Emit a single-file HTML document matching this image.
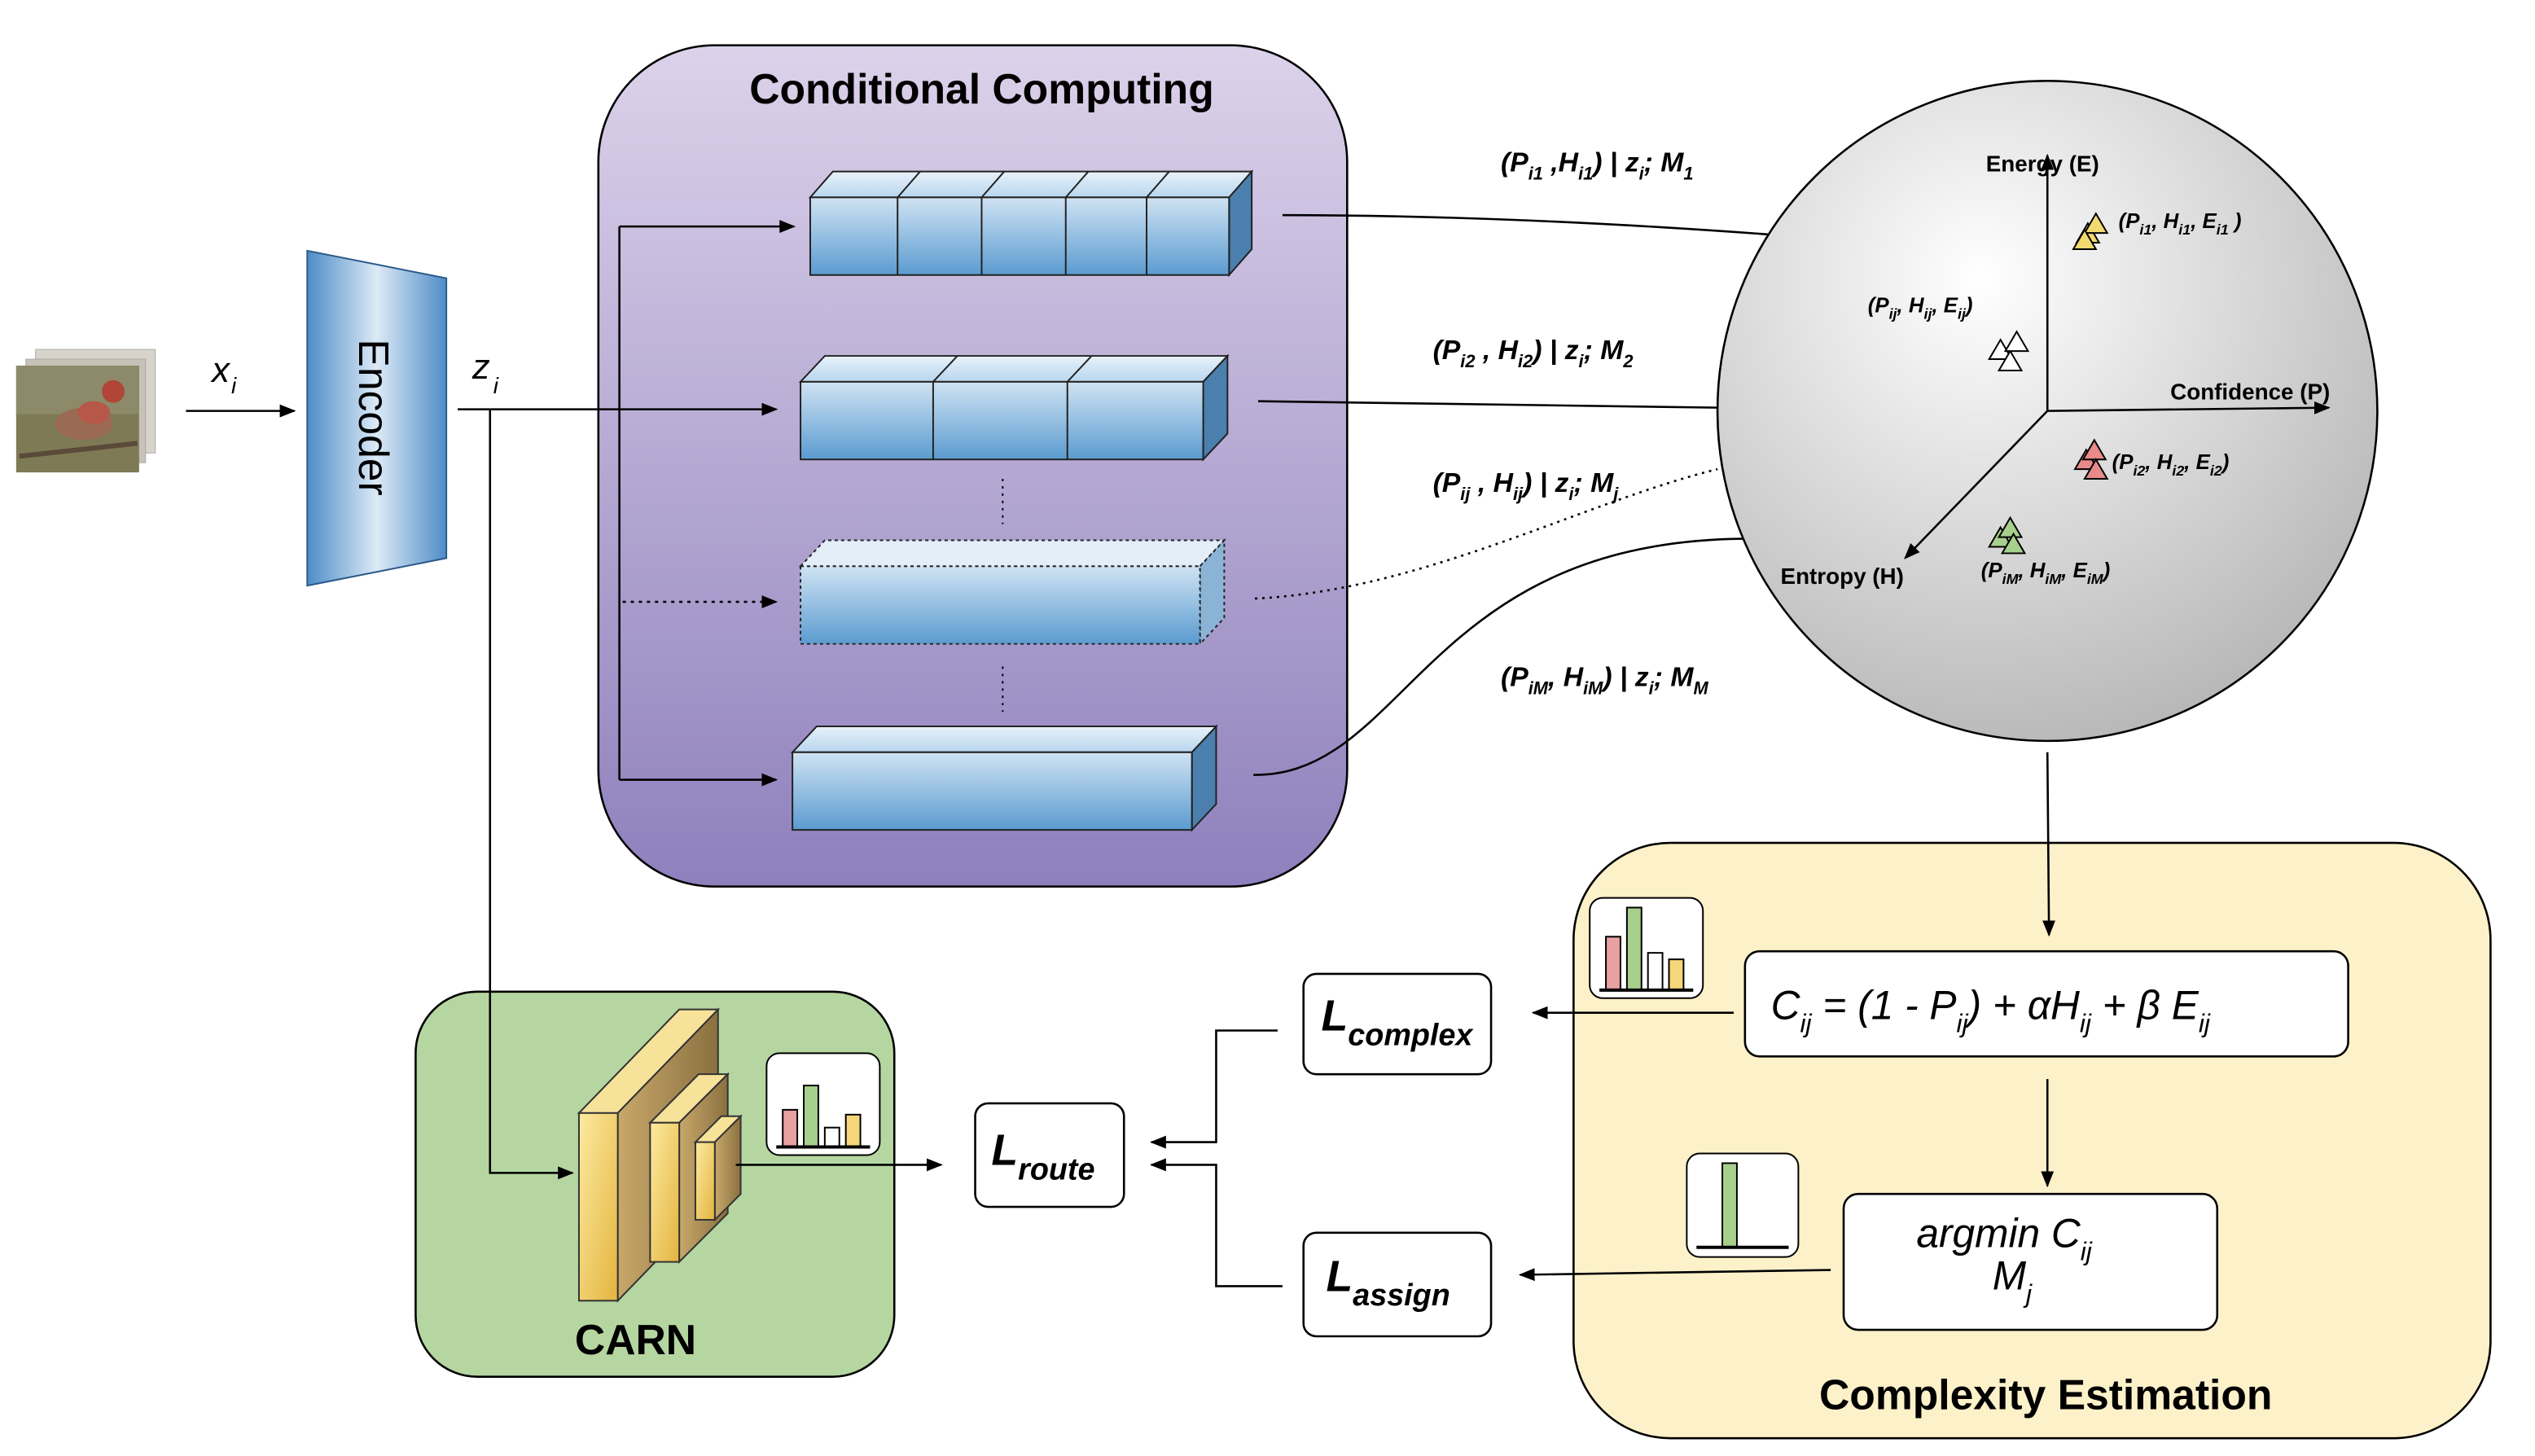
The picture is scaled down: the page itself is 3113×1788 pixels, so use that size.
<!DOCTYPE html>
<html><head><meta charset="utf-8"><style>
html,body{margin:0;padding:0;background:#fff}
svg{display:block}
text{font-family:"Liberation Sans",Arial,sans-serif}
</style></head><body>
<svg width="3113" height="1788" viewBox="0 0 1567.5 900" preserveAspectRatio="none" xmlns="http://www.w3.org/2000/svg">
<defs>
<linearGradient id="pur" x1="0" y1="0" x2="0" y2="1"><stop offset="0" stop-color="#dcd2ea"/><stop offset="1" stop-color="#8e80bc"/></linearGradient>
<linearGradient id="enc" x1="0" y1="0" x2="1" y2="0"><stop offset="0" stop-color="#4f8cc8"/><stop offset="0.5" stop-color="#dceaf6"/><stop offset="1" stop-color="#4f8cc8"/></linearGradient>
<linearGradient id="blk" x1="0" y1="0" x2="0" y2="1"><stop offset="0" stop-color="#cfe3f3"/><stop offset="1" stop-color="#5b9bd0"/></linearGradient>
<linearGradient id="blkt" x1="0" y1="0" x2="0" y2="1"><stop offset="0" stop-color="#e8f2fa"/><stop offset="1" stop-color="#b8d6ee"/></linearGradient>
<radialGradient id="sph" cx="0.4" cy="0.3" r="0.8"><stop offset="0" stop-color="#ffffff"/><stop offset="1" stop-color="#b0b0b0"/></radialGradient>
<linearGradient id="yel" x1="0" y1="0" x2="1" y2="1"><stop offset="0" stop-color="#fdeaa0"/><stop offset="1" stop-color="#e3b43e"/></linearGradient>
<linearGradient id="yel2" x1="0" y1="0" x2="1" y2="0"><stop offset="0" stop-color="#c8a86a"/><stop offset="1" stop-color="#8a7040"/></linearGradient>
<marker id="ar" markerWidth="10" markerHeight="8" refX="9" refY="4" orient="auto" markerUnits="userSpaceOnUse"><path d="M0,0 L10,4 L0,8 z" fill="#000"/></marker>
</defs>

<!-- bird photos -->
<rect x="22" y="216" width="74" height="64" fill="#d8d4cc" stroke="#aaa" stroke-width="0.5"/>
<rect x="16" y="222" width="74" height="64" fill="#c7c2b8" stroke="#aaa" stroke-width="0.5"/>
<rect x="10" y="226" width="76" height="66" fill="#7d7a55"/>
<rect x="10" y="226" width="76" height="30" fill="#8c8a68"/>
<ellipse cx="52" cy="262" rx="18" ry="10" fill="#9b6a52"/>
<circle cx="70" cy="242" r="7" fill="#b04538"/>
<ellipse cx="58" cy="255" rx="10" ry="7" fill="#b7574a"/>
<line x1="12" y1="282" x2="85" y2="274" stroke="#5a4a3a" stroke-width="3"/>

<text x="131" y="236" font-size="22" font-style="italic">x</text><text x="143" y="243" font-size="14" font-style="italic">i</text>
<line x1="115" y1="254" x2="182" y2="254" stroke="#000" stroke-width="1.3" marker-end="url(#ar)"/>

<!-- encoder -->
<polygon points="190,155 276,172 276,345 190,362" fill="url(#enc)" stroke="#2a5a8a" stroke-width="1"/>
<text transform="translate(222,258) rotate(90)" font-size="26" text-anchor="middle">Encoder</text>

<text x="292" y="234" font-size="22" font-style="italic">z</text><text x="305" y="243" font-size="14" font-style="italic">i</text>

<!-- conditional computing -->
<rect x="370" y="28" width="463" height="520" rx="72" fill="url(#pur)" stroke="#000" stroke-width="1.3"/>
<text x="607" y="64" font-size="26" font-weight="bold" text-anchor="middle">Conditional Computing</text>
<line x1="383" y1="140" x2="383" y2="482" stroke="#000" stroke-width="1.3"/>
<line x1="383" y1="140" x2="491" y2="140" stroke="#000" stroke-width="1.3" marker-end="url(#ar)"/>
<line x1="383" y1="482" x2="480" y2="482" stroke="#000" stroke-width="1.3" marker-end="url(#ar)"/>
<line x1="385" y1="372" x2="480" y2="372" stroke="#000" stroke-width="1.3" stroke-dasharray="2,3" marker-end="url(#ar)"/>

<!-- block1 -->
<g stroke="#222" stroke-width="1">
<polygon points="501,122 515,106 774,106 760,122" fill="url(#blkt)"/>
<polygon points="760,122 774,106 774,154 760,170" fill="#4a7fae"/>
<rect x="501" y="122" width="259" height="48" fill="url(#blk)"/>
<line x1="555" y1="122" x2="555" y2="170"/><line x1="607" y1="122" x2="607" y2="170"/><line x1="659" y1="122" x2="659" y2="170"/><line x1="709" y1="122" x2="709" y2="170"/>
<line x1="555" y1="122" x2="569" y2="106"/><line x1="607" y1="122" x2="621" y2="106"/><line x1="659" y1="122" x2="673" y2="106"/><line x1="709" y1="122" x2="723" y2="106"/>
</g>
<!-- block2 -->
<g stroke="#222" stroke-width="1">
<polygon points="495,236 510,220 759,220 744,236" fill="url(#blkt)"/>
<polygon points="744,236 759,220 759,268 744,284" fill="#4a7fae"/>
<rect x="495" y="236" width="249" height="48" fill="url(#blk)"/>
<line x1="577" y1="236" x2="577" y2="284"/><line x1="660" y1="236" x2="660" y2="284"/>
<line x1="577" y1="236" x2="592" y2="220"/><line x1="660" y1="236" x2="675" y2="220"/>
</g>
<!-- dotted block -->
<g stroke="#222" stroke-width="1" stroke-dasharray="2,2">
<polygon points="495,350 510,334 757,334 742,350" fill="#e3eef8"/>
<polygon points="742,350 757,334 757,382 742,398" fill="#8ab3d6"/>
<rect x="495" y="350" width="247" height="48" fill="url(#blk)"/>
</g>
<!-- block4 -->
<g stroke="#222" stroke-width="1">
<polygon points="490,465 505,449 752,449 737,465" fill="url(#blkt)"/>
<polygon points="737,465 752,449 752,497 737,513" fill="#4a7fae"/>
<rect x="490" y="465" width="247" height="48" fill="url(#blk)"/>
</g>
<line x1="620" y1="296" x2="620" y2="324" stroke="#000" stroke-dasharray="1.5,3"/>
<line x1="620" y1="412" x2="620" y2="440" stroke="#000" stroke-dasharray="1.5,3"/>

<!-- connectors to sphere -->
<path d="M793,133 C900,133 1000,138 1095,145" fill="none" stroke="#000" stroke-width="1.3"/>
<path d="M778,248 C880,250 980,251 1063,252" fill="none" stroke="#000" stroke-width="1.3"/>
<path d="M776,370 C880,365 980,310 1062,290" fill="none" stroke="#000" stroke-width="1.3" stroke-dasharray="1.5,3"/>
<path d="M775,479 C870,480 880,335 1078,333" fill="none" stroke="#000" stroke-width="1.3"/>

<g font-size="17" font-weight="bold" font-style="italic">
<text x="928" y="106">(P<tspan font-size="11" dy="5">i1</tspan><tspan dy="-5"> ,H</tspan><tspan font-size="11" dy="5">i1</tspan><tspan dy="-5">) | z</tspan><tspan font-size="11" dy="5">i</tspan><tspan dy="-5">; M</tspan><tspan font-size="11" dy="5">1</tspan></text>
<text x="886" y="222">(P<tspan font-size="11" dy="5">i2</tspan><tspan dy="-5"> , H</tspan><tspan font-size="11" dy="5">i2</tspan><tspan dy="-5">) | z</tspan><tspan font-size="11" dy="5">i</tspan><tspan dy="-5">; M</tspan><tspan font-size="11" dy="5">2</tspan></text>
<text x="886" y="304">(P<tspan font-size="11" dy="5">ij</tspan><tspan dy="-5"> , H</tspan><tspan font-size="11" dy="5">ij</tspan><tspan dy="-5">) | z</tspan><tspan font-size="11" dy="5">i</tspan><tspan dy="-5">; M</tspan><tspan font-size="11" dy="5">j</tspan></text>
<text x="928" y="424">(P<tspan font-size="11" dy="5">iM</tspan><tspan dy="-5">, H</tspan><tspan font-size="11" dy="5">iM</tspan><tspan dy="-5">) | z</tspan><tspan font-size="11" dy="5">i</tspan><tspan dy="-5">; M</tspan><tspan font-size="11" dy="5">M</tspan></text>
</g>

<!-- sphere -->
<circle cx="1266" cy="254" r="204" fill="url(#sph)" stroke="#000" stroke-width="1.3"/>
<line x1="1266" y1="254" x2="1266" y2="96" stroke="#000" stroke-width="1.3" marker-end="url(#ar)"/>
<line x1="1266" y1="254" x2="1440" y2="252" stroke="#000" stroke-width="1.3" marker-end="url(#ar)"/>
<line x1="1266" y1="254" x2="1178" y2="345" stroke="#000" stroke-width="1.3" marker-end="url(#ar)"/>
<g font-size="14" font-weight="bold">
<text x="1263" y="106" text-anchor="middle">Energy (E)</text>
<text x="1342" y="247">Confidence (P)</text>
<text x="1101" y="361">Entropy (H)</text>
</g>
<g font-size="13" font-weight="bold" font-style="italic">
<text x="1310" y="141">(P<tspan font-size="9" dy="4">i1</tspan><tspan dy="-4">, H</tspan><tspan font-size="9" dy="4">i1</tspan><tspan dy="-4">, E</tspan><tspan font-size="9" dy="4">i1</tspan><tspan dy="-4"> )</tspan></text>
<text x="1155" y="193">(P<tspan font-size="9" dy="4">ij</tspan><tspan dy="-4">, H</tspan><tspan font-size="9" dy="4">ij</tspan><tspan dy="-4">, E</tspan><tspan font-size="9" dy="4">ij</tspan><tspan dy="-4">)</tspan></text>
<text x="1306" y="290">(P<tspan font-size="9" dy="4">i2</tspan><tspan dy="-4">, H</tspan><tspan font-size="9" dy="4">i2</tspan><tspan dy="-4">, E</tspan><tspan font-size="9" dy="4">i2</tspan><tspan dy="-4">)</tspan></text>
<text x="1225" y="357">(P<tspan font-size="9" dy="4">iM</tspan><tspan dy="-4">, H</tspan><tspan font-size="9" dy="4">iM</tspan><tspan dy="-4">, E</tspan><tspan font-size="9" dy="4">iM</tspan><tspan dy="-4">)</tspan></text>
</g>
<g stroke="#000" stroke-width="1">
<polygon points="1284,150 1291,138 1298,150" fill="#f2da70"/><polygon points="1289,144 1296,132 1303,144" fill="#f2da70"/><polygon points="1282,154 1289,142 1296,154" fill="#f2da70"/>
<polygon points="1230,222 1237,210 1244,222" fill="#fff"/><polygon points="1236,229 1243,217 1250,229" fill="#fff"/><polygon points="1240,217 1247,205 1254,217" fill="#fff"/>
<polygon points="1283,290 1290,278 1297,290" fill="#e88a8a"/><polygon points="1288,284 1295,272 1302,284" fill="#e88a8a"/><polygon points="1289,296 1296,284 1303,296" fill="#e88a8a"/>
<polygon points="1230,338 1237,326 1244,338" fill="#a8d08d"/><polygon points="1236,332 1243,320 1250,332" fill="#a8d08d"/><polygon points="1238,342 1245,330 1252,342" fill="#a8d08d"/>
</g>

<!-- complexity estimation -->
<rect x="973" y="521" width="567" height="368" rx="60" fill="#fdf1c9" stroke="#000" stroke-width="1.3"/>
<text x="1265" y="871" font-size="26" font-weight="bold" text-anchor="middle">Complexity Estimation</text>
<rect x="1079" y="588" width="373" height="65" rx="9" fill="#fff" stroke="#000" stroke-width="1.3"/>
<text x="1095" y="630" font-size="25" font-style="italic">C<tspan font-size="16" dy="8">ij</tspan><tspan dy="-8"> = (1 - P</tspan><tspan font-size="16" dy="8">ij</tspan><tspan dy="-8">) + αH</tspan><tspan font-size="16" dy="8">ij</tspan><tspan dy="-8"> + β E</tspan><tspan font-size="16" dy="8">ij</tspan></text>
<line x1="1266" y1="667" x2="1266" y2="733" stroke="#000" stroke-width="1.3" marker-end="url(#ar)"/>
<rect x="1140" y="738" width="231" height="84" rx="9" fill="#fff" stroke="#000" stroke-width="1.3"/>
<text x="1185" y="771" font-size="25" font-style="italic">argmin C<tspan font-size="16" dy="8">ij</tspan></text>
<text x="1232" y="797" font-size="25" font-style="italic">M<tspan font-size="16" dy="8">j</tspan></text>

<!-- CARN -->
<rect x="257" y="613" width="296" height="238" rx="38" fill="#b5d6a1" stroke="#000" stroke-width="1.3"/>
<text x="393" y="837" font-size="26" font-weight="bold" text-anchor="middle">CARN</text>
<g stroke="#333" stroke-width="1">
<polygon points="358,688 420,624 444,624 382,688" fill="#f7e29a"/>
<polygon points="382,688 444,624 444,740 382,804" fill="url(#yel2)"/>
<rect x="358" y="688" width="24" height="116" fill="url(#yel)"/>
<polygon points="402,694 432,664 450,664 420,694" fill="#f7e29a"/>
<polygon points="420,694 450,664 450,750 420,780" fill="url(#yel2)"/>
<rect x="402" y="694" width="18" height="86" fill="url(#yel)"/>
<polygon points="430,706 446,690 458,690 442,706" fill="#f7e29a"/>
<polygon points="442,706 458,690 458,738 442,754" fill="url(#yel2)"/>
<rect x="430" y="706" width="12" height="48" fill="url(#yel)"/>
</g>

<!-- hist icons -->
<g stroke="#000" stroke-width="1">
<rect x="983" y="555" width="70" height="62" rx="8" fill="#fff"/>
<rect x="993" y="579" width="9" height="33" fill="#e8a0a0"/><rect x="1006" y="561" width="9" height="51" fill="#a8d08d"/><rect x="1019" y="589" width="9" height="23" fill="#fff"/><rect x="1032" y="593" width="9" height="19" fill="#f5d77a"/>
<line x1="989" y1="612" x2="1047" y2="612" stroke-width="2"/>
<rect x="1043" y="713" width="69" height="64" rx="8" fill="#fff"/>
<rect x="1065" y="719" width="9" height="52" fill="#a8d08d"/>
<line x1="1049" y1="771" x2="1106" y2="771" stroke-width="2"/>
<rect x="474" y="651" width="70" height="63" rx="8" fill="#fff"/>
<rect x="484" y="686" width="9" height="23" fill="#e8a0a0"/><rect x="497" y="671" width="9" height="38" fill="#a8d08d"/><rect x="510" y="697" width="9" height="12" fill="#fff"/><rect x="523" y="689" width="9" height="20" fill="#f5d77a"/>
<line x1="480" y1="709" x2="538" y2="709" stroke-width="2"/>
</g>

<!-- losses -->
<rect x="806" y="602" width="116" height="62" rx="8" fill="#fff" stroke="#000" stroke-width="1.3"/>
<text x="817" y="637" font-size="27" font-weight="bold" font-style="italic">L<tspan font-size="19" dy="9">complex</tspan></text>
<rect x="806" y="762" width="116" height="64" rx="8" fill="#fff" stroke="#000" stroke-width="1.3"/>
<text x="820" y="798" font-size="27" font-weight="bold" font-style="italic">L<tspan font-size="19" dy="9">assign</tspan></text>
<rect x="603" y="682" width="92" height="64" rx="8" fill="#fff" stroke="#000" stroke-width="1.3"/>
<text x="613" y="720" font-size="27" font-weight="bold" font-style="italic">L<tspan font-size="19" dy="9">route</tspan></text>
<line x1="1072" y1="626" x2="948" y2="626" stroke="#000" stroke-width="1.3" marker-end="url(#ar)"/>
<line x1="1132" y1="785" x2="940" y2="788" stroke="#000" stroke-width="1.3" marker-end="url(#ar)"/>
<polyline points="790,637 752,637 752,706 712,706" fill="none" stroke="#000" stroke-width="1.3" marker-end="url(#ar)"/>
<polyline points="793,795 752,795 752,720 712,720" fill="none" stroke="#000" stroke-width="1.3" marker-end="url(#ar)"/>

<!-- top-layer connectors -->
<line x1="283" y1="253" x2="480" y2="253" stroke="#000" stroke-width="1.3" marker-end="url(#ar)"/>
<polyline points="303,253 303,725 354,725" fill="none" stroke="#000" stroke-width="1.3" marker-end="url(#ar)"/>
<line x1="1266" y1="465" x2="1267" y2="578" stroke="#000" stroke-width="1.3" marker-end="url(#ar)"/>
<line x1="455" y1="720" x2="582" y2="720" stroke="#000" stroke-width="1.3" marker-end="url(#ar)"/>
</svg>
</body></html>
